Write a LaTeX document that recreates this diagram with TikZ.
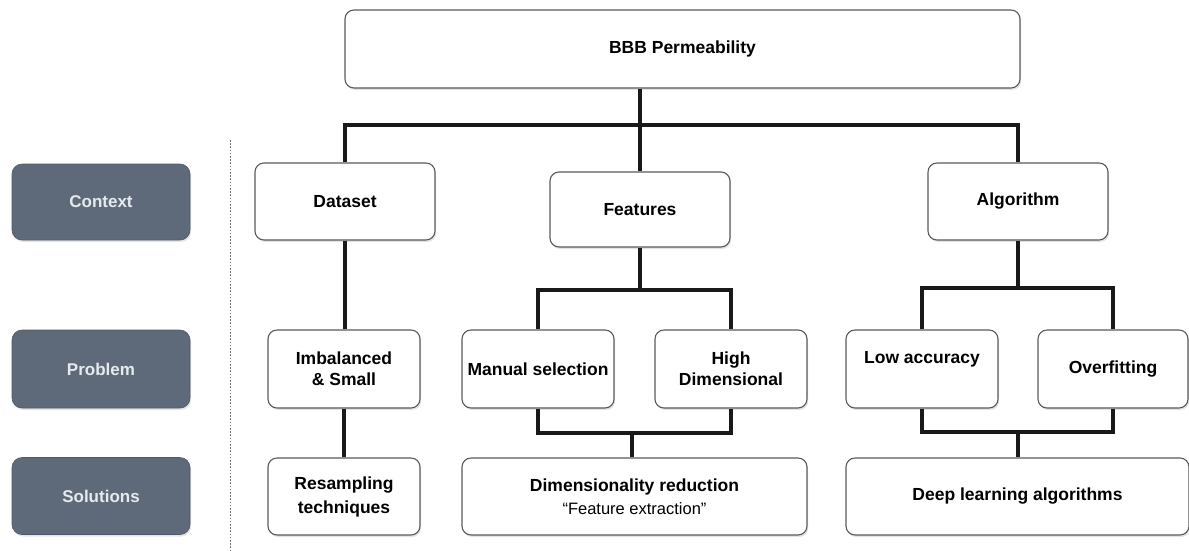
\documentclass[tikz,border=0pt]{standalone}
\usepackage{fontspec}
\setmainfont{Liberation Sans}
\usetikzlibrary{shadows}
\definecolor{slate}{HTML}{5E6A7A}
\definecolor{slatetext}{HTML}{E6EAEE}
\definecolor{boxline}{HTML}{5A5A5A}
\tikzset{
  box/.style={draw=boxline, line width=1.1pt, rounded corners=9pt, fill=white,
    align=center, font=\fontsize{17.5}{21}\selectfont\bfseries, inner sep=2pt,
    drop shadow={opacity=0.22, shadow xshift=1.2pt, shadow yshift=-2pt}},
  tag/.style={fill=slate, draw=slate!85!black, line width=0.6pt, rounded corners=10pt,
    text=slatetext, font=\fontsize{17}{21}\selectfont\bfseries,
    minimum width=178pt, minimum height=76pt,
    drop shadow={opacity=0.2, shadow xshift=1.2pt, shadow yshift=-2pt}},
  conn/.style={draw=black!90, line width=3.2pt},
  sep/.style={draw=black!55, line width=0.8pt, dash pattern=on 1.6pt off 1.6pt}
}
\begin{document}
\begin{tikzpicture}[x=1pt, y=-1pt]
\useasboundingbox (0,0) rectangle (1189,550);
% category tags
\node[tag] (context) at (101,202) {Context};
\node[tag, minimum height=78pt] (problem) at (101,369) {Problem};
\node[tag, minimum height=77pt] (solutions) at (101,496) {Solutions};
\coordinate (septop) at (230,140);
\coordinate (sepbot) at (230,550);
\draw[sep] (septop) -- (sepbot);
% boxes
\node[box, minimum width=675pt, minimum height=78pt] (bbb) at (682.5,49) {BBB Permeability};
\node[box, minimum width=180pt, minimum height=77pt] (dataset) at (345,201.5) {Dataset};
\node[box, minimum width=180pt, minimum height=75pt] (features) at (640,209.5) {Features};
\node[box, minimum width=180pt, minimum height=77pt] (algorithm) at (1018,201.5) {Algorithm};
\node[box, minimum width=152pt, minimum height=78pt] (imbal) at (344,369) {Imbalanced\\\& Small};
\node[box, minimum width=152pt, minimum height=78pt] (manual) at (538,369) {Manual selection};
\node[box, minimum width=152pt, minimum height=78pt] (high) at (731,369) {High\\Dimensional};
\node[box, minimum width=152pt, minimum height=78pt] (low) at (922,369) {Low accuracy\\[2pt]~};
\node[box, minimum width=150pt, minimum height=78pt] (over) at (1113,369) {Overfitting};
\node[box, minimum width=152pt, minimum height=77pt] (resamp) at (344,496.5) {Resampling\\[3pt]techniques};
\node[box, minimum width=345pt, minimum height=77pt] (dimred) at (634.5,496.5) {Dimensionality reduction\\[2pt]{\mdseries\fontsize{16.5}{19}\selectfont ``Feature extraction''}};
\node[box, minimum width=343pt, minimum height=77pt] (deep) at (1017.5,496.5) {Deep learning algorithms};
% junctions
\coordinate (j1) at (640,125);
\coordinate (fj) at (640,290);
\coordinate (fb) at (632,433);
\coordinate (aj) at (1018,288);
\coordinate (ab) at (1018,432);
% connectors
\draw[conn] (bbb.south -| j1) -- (features.north);
\draw[conn] (dataset.north) -- (dataset.north |- j1) -- (algorithm.north |- j1) -- (algorithm.north);
\draw[conn] (dataset.south) -- (imbal.north -| dataset.south);
\draw[conn] (imbal.south) -- (resamp.north);
\draw[conn] (features.south) -- (fj);
\draw[conn] (manual.north) -- (manual.north |- fj) -- (high.north |- fj) -- (high.north);
\draw[conn] (manual.south) -- (manual.south |- fb) -- (high.south |- fb) -- (high.south);
\draw[conn] (fb) -- (dimred.north -| fb);
\draw[conn] (algorithm.south) -- (aj);
\draw[conn] (low.north) -- (low.north |- aj) -- (over.north |- aj) -- (over.north);
\draw[conn] (low.south) -- (low.south |- ab) -- (over.south |- ab) -- (over.south);
\draw[conn] (ab) -- (deep.north -| ab);
\end{tikzpicture}
\end{document}
